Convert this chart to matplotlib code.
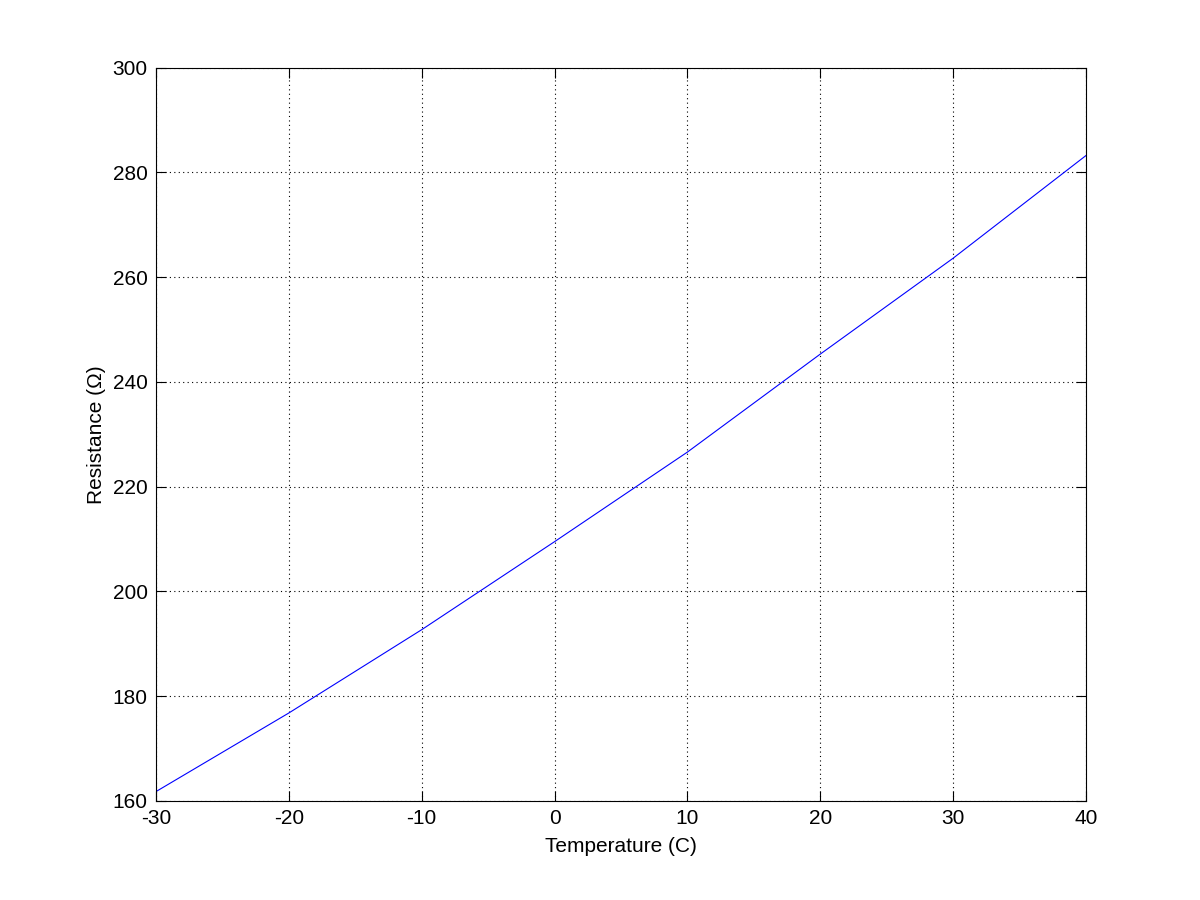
import matplotlib
matplotlib.use("Agg")
import matplotlib.pyplot as plt

temperature = [-30, -20, -10, 0, 10, 20, 30, 40]
resistance = [161.8, 176.8, 192.7, 209.5, 226.6, 245.3, 263.6, 283.2]
x_ticks = [-30, -20, -10, 0, 10, 20, 30, 40]
y_ticks = [160, 180, 200, 220, 240, 260, 280, 300]

plt.rcParams['font.family'] = ['Liberation Sans', 'DejaVu Sans']
plt.rcParams['axes.unicode_minus'] = False

fig = plt.figure(figsize=(12, 9), dpi=100)
ax = fig.add_axes([0.13, 0.11, 0.775, 0.815])
ax.plot(temperature, resistance, color=(0, 0, 1), linewidth=0.8)
ax.set_xlim(-30, 40)
ax.set_ylim(160, 300)
ax.set_xticks(x_ticks)
ax.set_yticks(y_ticks)
ax.grid(True, color='black', linestyle=(0, (1, 3)), linewidth=0.8)
ax.tick_params(direction='in', top=True, right=True, length=7, width=0.8,
               labelsize=15, pad=6)
for s in ax.spines.values():
    s.set_linewidth(0.8)
ax.set_xlabel('Temperature (C)', fontsize=15, labelpad=6)
ax.set_ylabel('Resistance (Ω)', fontsize=15, labelpad=5)
fig.savefig('out.png', dpi=100)
